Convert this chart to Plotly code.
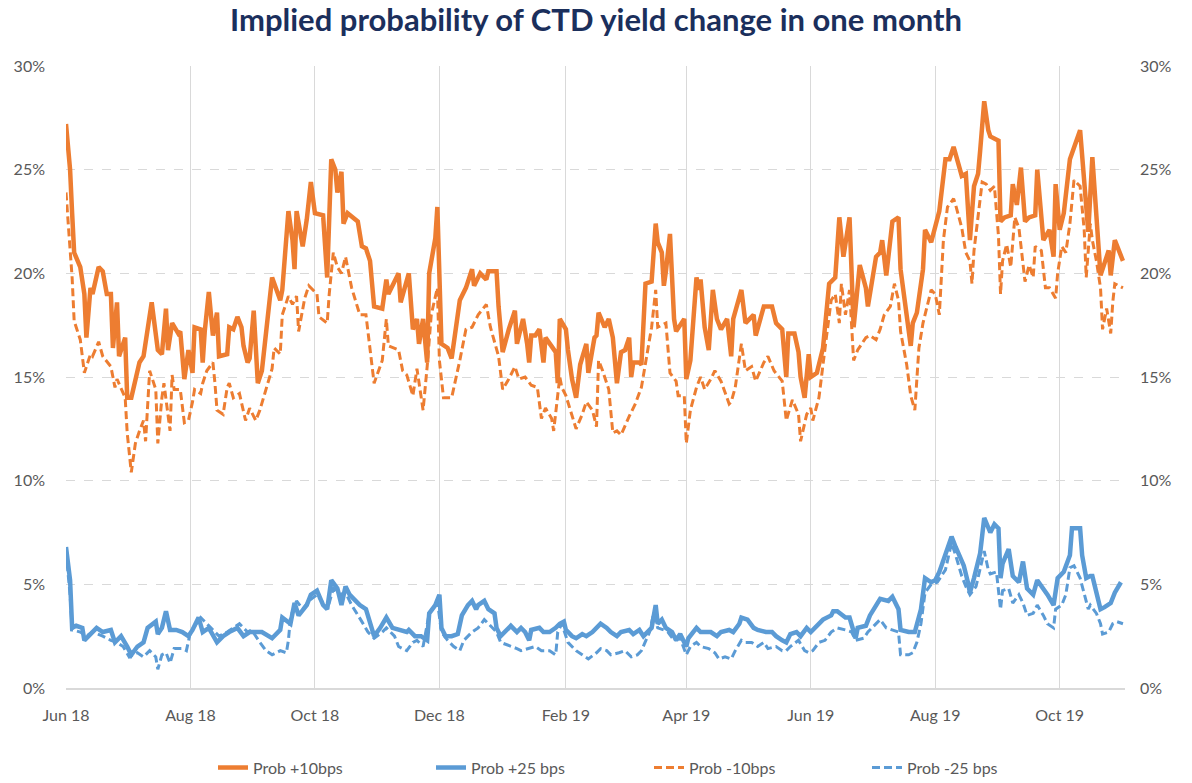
import pandas as pd
import plotly.graph_objects as go

START = pd.Timestamp("2018-06-01")

# ---- Prob +10bps (days since START, value in %) ----
p10_days = [0,2,3,4,7,9,10,12,13,16,18,20,22,23,25,26,29,30,32,36,38,42,45,47,49,50,52,53,55,56,58,60,62,63,66,67,68,70,72,74,75,79,80,82,84,86,87,89,90,92,94,96,101,105,106,109,111,112,113,116,118,120,122,126,128,130,132,133,135,136,138,143,145,147,149,151,155,157,158,163,164,168,170,172,173,175,177,178,181,182,
            183,184,187,189,193,196,199,200,203,206,207,211,212,214,217,220,221,224,226,227,228,230,232,234,235,240,241,242,245,246,248,250,252,255,256,259,260,261,264,266,268,270,272,274,276,277,278,281,282,284,287,289,290,292,293,294,296,298,299,301,303,304,306,309,310,311,313,315,317,319,321,324,326,327,331,333,335,337,338,342,346,348,351,353,354,357,359,360,362,364,365,368,371,374,377,379,381,384,386,389,392,393,397,399,400,402,405,408,409,412,414,415,417,420,421,424,426,428,431,433,435,439,441,443,445,447,448,450,452,453,457,458,460,463,464,466,468,470,472,475,476,479,482,484,485,487,489,492,497,499,501,503,506,507,511,512,514,518]
p10_vals = [27.2,25.0,22.9,21.0,20.3,19.0,16.9,19.3,19.0,20.3,20.1,19.0,19.0,16.4,18.6,16.0,16.9,14.0,14.0,15.7,16.0,18.6,16.3,16.1,18.3,16.3,17.6,17.4,17.1,17.2,14.9,16.3,15.2,17.4,17.3,15.7,17.2,19.1,17.0,18.1,16.0,16.1,17.4,17.3,17.9,17.4,16.5,15.7,15.9,18.2,14.7,15.3,19.8,18.7,19.2,23.0,21.6,20.2,23.0,21.3,22.6,24.4,22.9,22.8,19.8,25.5,25.0,23.9,24.9,22.4,22.9,22.5,21.3,21.2,20.6,18.4,18.3,19.7,19.0,20.0,18.6,20.0,17.3,17.8,16.6,17.8,15.7,20.0,21.7,23.2,
            20.6,16.6,16.4,15.9,18.7,19.3,20.2,19.4,20.0,19.7,20.1,20.1,18.4,16.2,17.3,18.2,16.6,17.8,16.6,15.7,17.0,17.0,17.3,15.7,16.9,16.2,14.7,17.8,17.3,16.3,14.9,14.0,15.6,16.6,15.2,16.9,17.0,18.1,17.4,17.8,16.9,14.7,16.2,16.3,16.9,15.0,15.7,15.7,15.6,19.5,19.6,22.4,21.5,21.0,19.4,20.1,21.9,17.8,17.2,17.5,17.8,14.9,15.8,19.8,19.2,19.7,17.4,16.3,19.2,17.8,17.3,17.8,16.0,17.8,19.2,17.6,17.8,18.0,17.0,18.4,18.4,17.6,17.3,15.0,17.1,17.1,16.2,15.0,14.0,16.1,15.0,15.2,16.4,19.5,19.8,22.7,20.8,22.7,17.4,20.4,19.3,18.4,20.8,21.0,21.6,19.9,22.5,22.7,20.2,17.8,16.5,17.6,18.1,20.2,22.1,21.5,22.3,23.0,25.5,25.5,26.1,24.7,24.8,21.6,24.2,24.8,25.9,28.3,26.9,26.6,26.4,22.5,22.7,22.8,24.3,23.3,25.1,22.5,22.7,22.8,25.0,21.6,22.1,20.8,24.3,22.1,22.9,25.5,26.9,24.2,22.0,25.6,21.4,19.9,21.1,19.9,21.6,20.6]

# ---- Prob +25 bps ----
p25_days = [0,2,3,5,8,9,12,15,18,22,24,27,30,32,35,38,40,44,45,47,49,51,54,57,60,62,65,67,70,74,77,80,84,87,90,93,96,101,105,106,110,112,114,118,120,123,126,128,130,133,135,137,139,141,144,147,150,151,154,157,160,163,167,168,171,174,177,178,181,183,184,186,189,192,194,197,199,201,202,205,207,210,211,213,216,218,221,223,225,227,228,232,234,237,240,242,244,245,248,250,253,255,258,260,262,265,267,270,272,276,278,281,283,287,289,290,292,294,297,299,301,304,305,309,311,313,316,319,321,325,327,330,331,334,337,339,343,346,348,351,353,355,358,360,363,365,368,371,375,376,378,382,384,387,388,392,394,397,399,403,405,408,409,413,416,419,421,424,426,428,431,434,436,440,442,443,445,448,450,452,453,455,457,458,459,462,464,467,469,471,474,476,479,481,484,486,489,492,493,497,498,500,502,503,505,507,509,512,514,517]
p25_vals = [6.8,5.2,2.9,3.0,2.9,2.3,2.6,2.9,2.7,2.8,2.2,2.5,2.0,1.6,2.0,2.2,2.9,3.2,2.6,2.9,3.7,2.8,2.8,2.7,2.5,2.8,3.4,2.7,2.9,2.2,2.5,2.7,2.9,2.5,2.7,2.7,2.7,2.4,2.8,3.4,3.1,4.1,3.5,4.0,4.5,4.7,4.0,3.8,5.2,4.8,4.0,4.9,4.5,4.3,4.0,3.8,2.9,2.5,2.9,3.4,2.9,2.8,2.7,2.8,2.5,2.5,2.3,3.6,4.0,4.5,2.9,2.5,2.5,2.6,3.5,4.0,4.2,3.8,4.0,4.2,3.8,3.6,2.9,2.5,2.8,3.0,2.7,2.9,2.7,2.3,2.8,2.9,2.7,2.7,2.9,3.1,3.2,2.8,2.5,2.4,2.6,2.5,2.7,2.9,3.1,2.9,2.7,2.5,2.7,2.8,2.6,2.8,2.5,2.9,4.0,3.1,3.3,2.9,2.7,2.3,2.6,2.0,2.4,2.9,2.7,2.7,2.7,2.5,2.7,2.8,2.7,3.1,3.4,3.3,2.9,2.8,2.7,2.7,2.5,2.3,2.2,2.6,2.7,2.5,2.9,2.7,3.0,3.3,3.5,3.7,3.7,3.4,3.4,2.4,2.9,3.0,3.5,4.0,4.3,4.2,4.4,3.8,2.8,2.7,2.7,3.8,5.3,5.1,5.2,5.6,6.5,7.3,6.8,5.9,5.1,4.6,5.3,6.5,8.2,7.8,7.5,7.9,7.7,5.3,6.0,6.7,5.4,5.1,6.1,4.8,4.5,5.2,4.8,4.5,4.0,5.3,5.6,6.4,7.7,7.7,6.4,5.3,5.4,5.4,4.6,3.8,3.9,4.1,4.6,5.1]

# ---- Prob -10bps ----
m10_days = [0,1,3,4,7,9,12,13,16,18,22,24,25,29,30,32,34,36,38,39,41,44,45,47,48,51,52,53,56,58,60,62,63,66,67,69,72,73,74,77,79,80,82,85,88,90,93,95,98,101,102,105,106,109,111,113,114,117,119,123,124,128,129,131,133,135,137,140,144,147,151,155,157,158,163,165,167,170,172,175,177,179,182,183,185,189,193,196,199,202,206,208,212,214,217,220,222,225,228,231,233,235,238,239,242,243,245,248,250,253,255,258,260,261,263,266,268,270,272,276,279,282,285,287,289,290,294,296,299,300,303,304,306,309,311,313,316,318,321,325,326,328,331,333,336,338,342,344,347,351,353,356,359,360,363,365,366,369,372,375,377,379,380,382,384,386,388,392,394,397,399,401,404,406,408,409,412,414,416,418,420,421,424,426,428,430,432,435,436,439,441,443,444,445,448,449,451,453,455,457,458,459,461,463,465,467,470,472,474,475,478,480,482,485,486,488,490,492,494,497,499,500,502,503,505,507,508,510,512,513,514,518]
m10_vals = [23.9,22.5,19.8,17.7,16.8,15.2,16.1,16.0,16.7,16.0,15.5,14.5,14.9,14.0,12.3,10.4,11.8,12.4,12.9,11.9,15.3,14.4,11.8,14.0,14.7,12.4,15.1,14.4,14.4,12.8,12.9,13.8,14.4,14.2,14.7,15.3,15.7,14.7,13.4,13.2,14.5,14.7,14.0,14.2,12.9,13.5,12.9,13.4,14.4,15.4,16.4,16.1,18.0,18.9,18.5,18.9,17.2,18.8,19.4,19.0,17.9,17.6,19.0,21.0,20.3,20.0,20.8,19.3,18.0,18.0,14.7,15.8,17.8,16.5,16.3,15.3,15.1,14.1,15.4,13.4,15.5,18.0,19.3,15.8,14.0,14.0,15.8,17.3,17.4,18.0,18.5,17.4,16.0,14.4,14.9,15.5,14.9,15.0,14.6,14.5,13.0,13.5,13.0,12.4,15.0,14.5,14.1,13.2,12.5,13.2,13.8,13.4,12.6,15.8,15.3,14.4,12.3,12.4,12.2,13.1,13.7,14.5,16.3,17.4,19.2,17.4,17.6,15.2,14.8,14.1,14.1,11.8,13.4,14.5,15.0,14.4,14.9,15.3,14.8,13.7,13.8,14.5,16.6,15.3,15.5,14.8,15.7,16.0,15.3,14.8,12.9,13.9,13.2,11.9,13.2,13.5,12.9,14.0,16.4,18.7,19.0,17.6,19.5,18.0,19.2,15.8,16.3,16.9,17.0,16.8,17.3,18.0,18.4,19.5,18.7,17.2,15.6,14.1,13.4,16.4,17.6,18.0,19.2,19.0,18.0,21.6,23.2,23.6,23.3,22.2,21.0,20.6,19.5,21.1,23.6,24.4,24.3,24.0,24.2,21.8,19.0,20.6,21.4,20.3,22.7,22.2,19.6,20.4,19.8,21.3,21.1,19.3,19.3,18.8,20.0,21.3,21.0,22.4,24.5,24.2,22.1,19.8,22.4,21.6,20.6,19.3,17.3,18.3,17.1,18.6,19.5,19.3]

# ---- Prob -25 bps ----
m25_days = [0,2,3,7,10,13,18,22,25,28,31,35,38,41,44,45,47,49,51,53,57,59,61,66,69,72,75,79,82,85,89,91,95,98,101,105,108,109,110,113,116,119,123,126,129,131,134,137,140,142,145,148,151,155,157,161,163,167,170,172,175,178,181,182,184,187,190,193,195,199,202,205,207,211,213,216,221,223,227,230,233,237,240,241,243,246,250,253,256,260,262,265,267,271,274,277,280,282,286,288,290,293,295,298,301,304,306,309,311,315,318,320,323,326,328,331,333,336,339,342,344,348,351,353,355,359,362,364,366,369,372,375,378,382,385,387,391,393,397,399,402,405,408,409,413,415,417,419,421,424,427,431,434,436,439,441,443,446,448,450,452,453,456,458,459,462,464,467,469,471,474,476,479,481,484,485,488,490,492,494,497,499,501,502,505,507,508,511,513,515,518]
m25_vals = [6.6,4.5,2.8,2.7,2.5,2.7,2.5,2.3,2.2,2.0,1.5,1.7,1.5,1.8,1.5,0.9,1.6,1.7,1.2,1.9,1.9,1.8,2.7,3.4,3.1,2.8,2.5,2.7,2.9,3.1,2.7,2.8,2.2,1.8,1.6,1.8,1.7,2.3,3.4,4.2,3.8,4.2,4.5,4.1,4.1,4.8,4.5,4.6,4.0,3.7,3.2,2.7,2.4,2.7,2.9,2.5,2.0,1.8,2.2,2.3,2.0,3.6,4.0,4.2,2.7,2.3,2.0,1.8,2.3,2.7,2.9,3.3,3.1,2.7,2.2,2.1,1.9,1.8,1.9,2.0,1.8,1.8,1.6,2.7,3.1,2.2,1.8,1.6,1.4,1.7,1.9,1.8,1.6,1.7,1.8,1.5,1.6,1.8,2.7,3.6,2.9,2.8,2.7,2.3,2.4,1.6,2.0,2.2,2.0,1.9,1.7,1.4,1.5,1.4,1.8,2.3,2.2,2.2,2.0,2.2,1.9,2.0,1.8,1.8,2.0,2.3,1.8,1.7,1.8,2.2,2.3,2.7,2.9,2.8,2.7,2.3,2.4,2.7,3.1,3.3,2.9,2.8,2.7,1.6,1.6,1.7,2.2,3.1,4.6,5.0,5.1,5.7,7.0,6.4,5.4,4.9,4.5,4.9,5.8,6.6,5.7,5.5,5.6,3.8,4.7,4.8,4.1,4.5,4.1,3.5,3.6,4.0,3.5,3.1,2.9,3.8,4.0,4.5,5.8,5.9,5.3,4.5,3.8,4.0,3.6,3.1,2.6,2.7,3.1,3.2,3.1]

TITLE = "Implied probability of CTD yield change in one month"
NAMES = ["Prob +10bps", "Prob +25 bps", "Prob -10bps", "Prob -25 bps"]
ORANGE = "#ED7D31"
BLUE = "#5B9BD5"
FONT = "Lato, Carlito, Calibri, sans-serif"


def to_dates(days):
    return [START + pd.Timedelta(days=d) for d in days]


fig = go.Figure()
fig.add_trace(go.Scatter(x=to_dates(p10_days), y=p10_vals, name=NAMES[0], mode="lines",
                         line=dict(color=ORANGE, width=4.5), yaxis="y"))
fig.add_trace(go.Scatter(x=to_dates(p25_days), y=p25_vals, name=NAMES[1], mode="lines",
                         line=dict(color=BLUE, width=4.5), yaxis="y"))
fig.add_trace(go.Scatter(x=to_dates(m10_days), y=m10_vals, name=NAMES[2], mode="lines",
                         line=dict(color=ORANGE, width=3, dash="8px,4px"), yaxis="y2"))
fig.add_trace(go.Scatter(x=to_dates(m25_days), y=m25_vals, name=NAMES[3], mode="lines",
                         line=dict(color=BLUE, width=3, dash="8px,4px"), yaxis="y2"))

tick_font = dict(family=FONT, size=16, color="#595959")

fig.update_layout(
    width=1192, height=783,
    margin=dict(l=66, r=67, t=66, b=95, autoexpand=False),
    paper_bgcolor="white", plot_bgcolor="white",
    title=dict(text="<b>" + TITLE + "</b>", x=0.5, xanchor="center", y=0.974, yanchor="middle",
               font=dict(family=FONT, size=31, color="#1B2F5C")),
    xaxis=dict(type="date", range=["2018-06-01", "2019-11-02"],
               tick0="2018-06-01", dtick="M2", tickformat="%b %y",
               showgrid=True, gridcolor="#D9D9D9", gridwidth=1,
               showline=True, linecolor="#D9D9D9", linewidth=1.5,
               ticks="", ticklabelstandoff=12, tickfont=tick_font, zeroline=False),
    yaxis=dict(range=[0, 30], dtick=5, ticksuffix="%", showgrid=True,
               gridcolor="#D9D9D9", griddash="dash", gridwidth=1,
               zeroline=False, showline=False, ticks="", tickfont=tick_font,
               ticklabelstandoff=20),
    yaxis2=dict(range=[0, 30], dtick=5, ticksuffix="%", overlaying="y", side="right",
                showgrid=False, zeroline=False, showline=False, ticks="", tickfont=tick_font,
                ticklabelstandoff=14),
    legend=dict(orientation="h", x=(213 - 66) / 1059, xanchor="left", y=-0.128, yanchor="middle",
                font=dict(family=FONT, size=16, color="#595959"),
                entrywidth=173, entrywidthmode="pixels", tracegroupgap=0, traceorder="normal"),
    showlegend=True,
)

fig.write_html("out.html", config={"displayModeBar": False},
               post_script="document.body.style.margin='0';document.body.style.padding='0';document.body.style.overflow='hidden';")
